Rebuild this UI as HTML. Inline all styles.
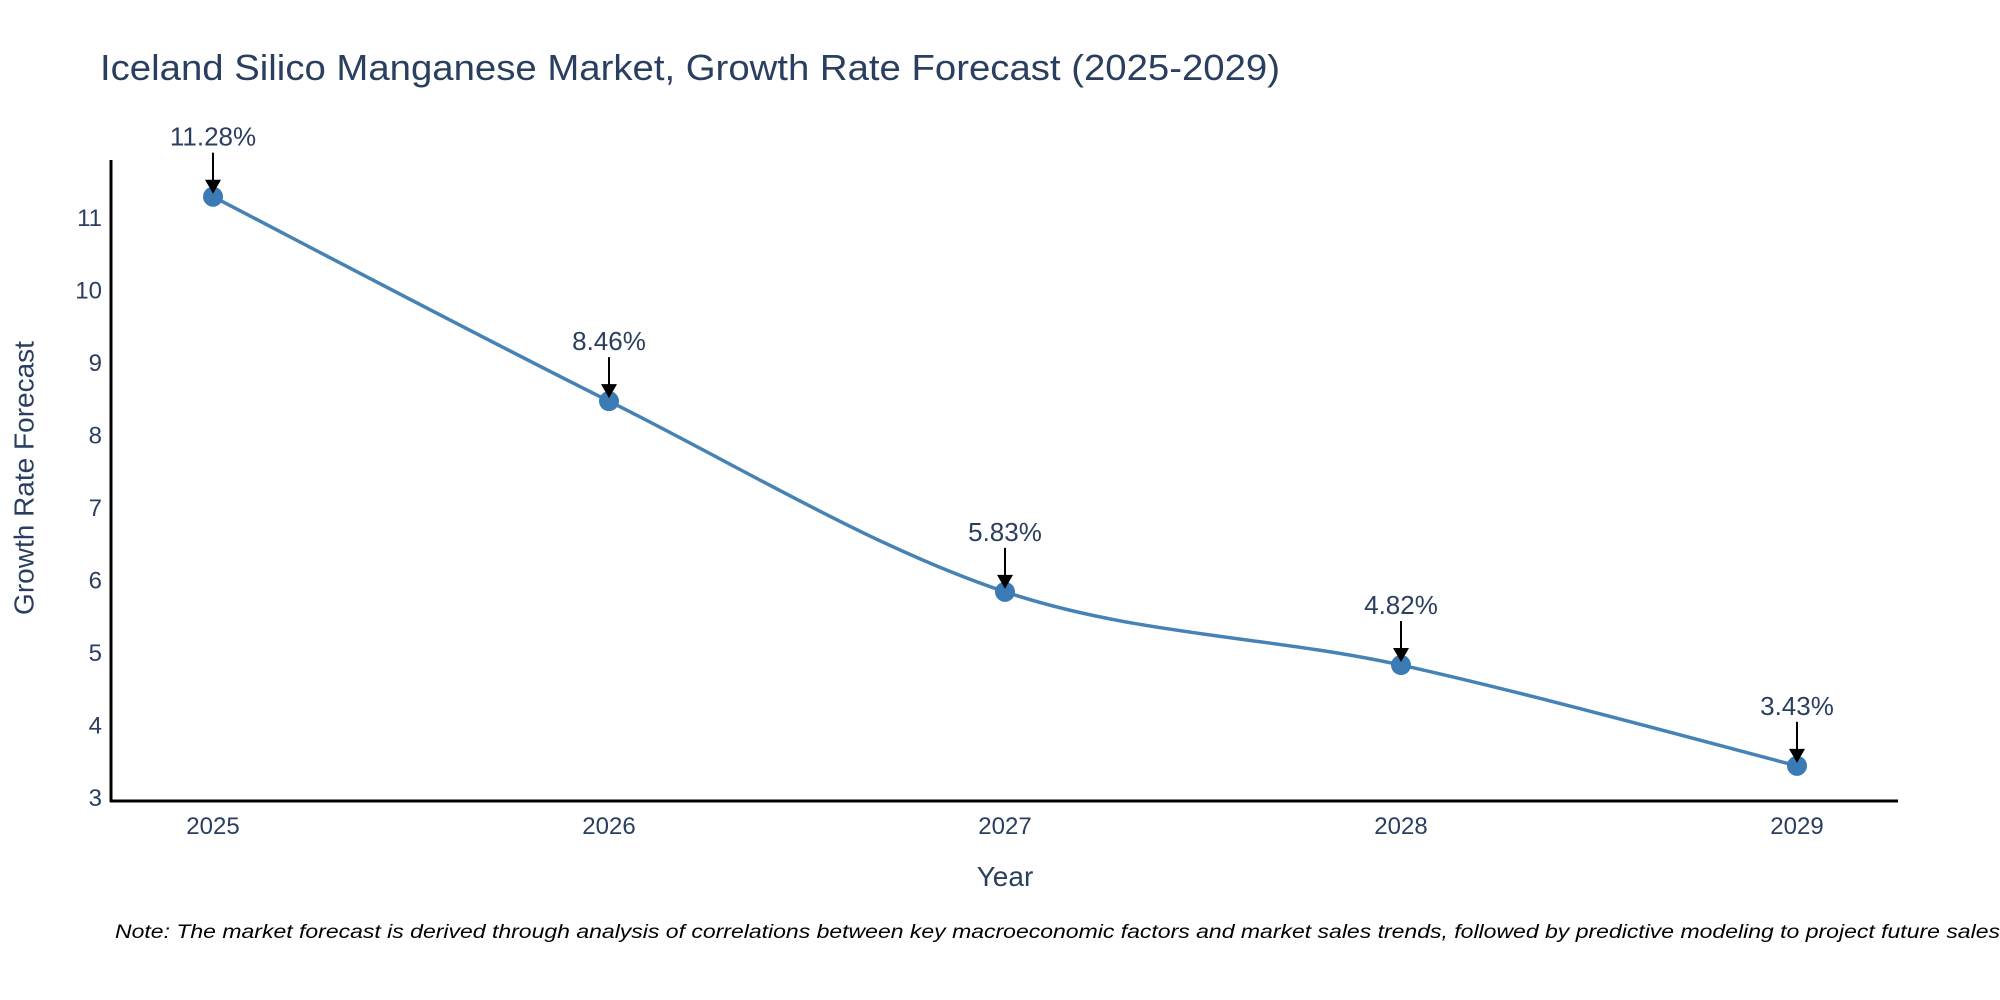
<!DOCTYPE html>
<html><head><meta charset="utf-8"><style>
html,body{margin:0;padding:0;background:#fff;}
svg{display:block;font-family:"Liberation Sans",sans-serif;}
</style></head><body>
<svg id="chart" width="2000" height="1000" viewBox="0 0 2000 1000">
<text x="100" y="80" font-size="36" fill="#2a3f5f" textLength="1180" lengthAdjust="spacingAndGlyphs">Iceland Silico Manganese Market, Growth Rate Forecast (2025-2029)</text>
<g id="yticks"></g>
<g id="xticks"></g>
<line x1="111" y1="160" x2="111" y2="802" stroke="#000" stroke-width="3"/>
<line x1="110" y1="801" x2="1898" y2="801" stroke="#000" stroke-width="3"/>
<path id="series" fill="none" stroke="#4682b4" stroke-width="3.5"/>
<g id="marks"></g>
<text x="26" y="478" font-size="28" fill="#2a3f5f" text-anchor="middle" transform="rotate(-90 26 478)" dominant-baseline="middle">Growth Rate Forecast</text>
<text x="1005" y="886" font-size="28" fill="#2a3f5f" text-anchor="middle">Year</text>
<text x="115" y="938" font-size="19" font-style="italic" fill="#000" textLength="1885" lengthAdjust="spacingAndGlyphs">Note: The market forecast is derived through analysis of correlations between key macroeconomic factors and market sales trends, followed by predictive modeling to project future sales</text>
</svg>
<script>
const years = ['2025','2026','2027','2028','2029'];
const values = [11.28, 8.46, 5.83, 4.82, 3.43];
const labels = ['11.28%','8.46%','5.83%','4.82%','3.43%'];
const yTicks = [3,4,5,6,7,8,9,10,11];

const NS='http://www.w3.org/2000/svg';
function xs(i){return 213+i*396;}
function ys(v){return 797-(v-3)*72.5;}
function mk(tag,attrs,parent,txt){const e=document.createElementNS(NS,tag);for(const k in attrs)e.setAttribute(k,attrs[k]);if(txt!==undefined)e.textContent=txt;parent.appendChild(e);return e;}

const yg=document.getElementById('yticks');
yTicks.forEach(t=>{
  const e=mk('text',{x:102,y:ys(t)+9,'font-size':24,fill:'#2a3f5f','text-anchor':'end'},yg,String(t));
  
  
});
const xg=document.getElementById('xticks');
years.forEach((y,i)=>{
  const e=mk('text',{x:xs(i),y:834,'font-size':24,fill:'#2a3f5f','text-anchor':'middle'},xg,y);
  
  
});

const pts=values.map((v,i)=>[xs(i),ys(v)]);
let d='M'+pts[0][0]+','+pts[0][1];
const s=0.5/3*2;
for(let i=0;i<pts.length-1;i++){
  const p0=pts[Math.max(i-1,0)],p1=pts[i],p2=pts[i+1],p3=pts[Math.min(i+2,pts.length-1)];
  const c1=[p1[0]+(p2[0]-p0[0])*s/2,p1[1]+(p2[1]-p0[1])*s/2];
  const c2=[p2[0]-(p3[0]-p1[0])*s/2,p2[1]-(p3[1]-p1[1])*s/2];
  d+=' C'+c1[0]+','+c1[1]+' '+c2[0]+','+c2[1]+' '+p2[0]+','+p2[1];
}
document.getElementById('series').setAttribute('d',d);

const mg=document.getElementById('marks');
values.forEach((v,i)=>{
  const x=xs(i),y=ys(v);
  const c=mk('circle',{cx:x,cy:y,r:10,fill:'#3a7ab5'},mg);
  
  
  const l=mk('line',{x1:x,y1:y-44,x2:x,y2:y-14,stroke:'#000','stroke-width':2},mg);
  
  
  const h=mk('polygon',{points:`${x-8},${y-17} ${x+8},${y-17} ${x},${y-3}`,fill:'#000'},mg);
  
  
  const t=mk('text',{x:x,y:y-51,'font-size':26,fill:'#2a3f5f','text-anchor':'middle'},mg,labels[i]);
  
  
});
</script>
</body></html>
